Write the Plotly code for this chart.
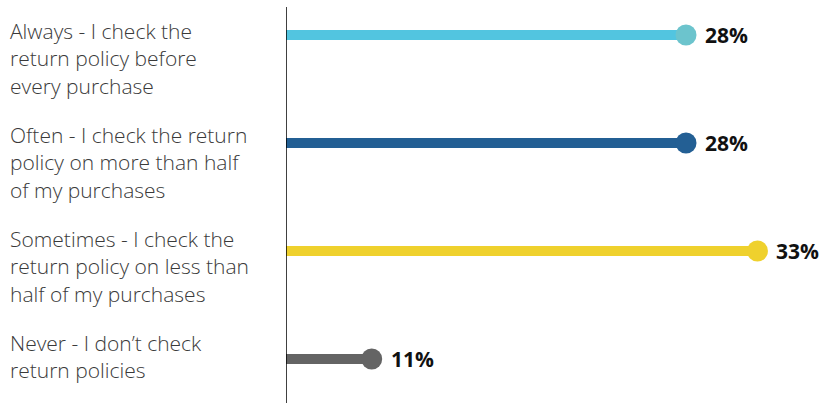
import plotly.graph_objects as go

categories = [
    "Always - I check the<br>return policy before<br>every purchase",
    "Often - I check the return<br>policy on more than half<br>of my purchases",
    "Sometimes - I check the<br>return policy on less than<br>half of my purchases",
    "Never - I don\u2019t check<br>return policies",
]
values = [28, 28, 33, 6]
value_labels = ["28%", "28%", "33%", "11%"]
bar_colors = ["#52c5e0", "#235f94", "#efd12d", "#646464"]
dot_colors = ["#6cc4cd", "#235f94", "#efd12d", "#646464"]

W, H = 825, 403
px_per_unit = 400 / 28.0
row_px = 108.0
first_row_px = 35.0

fig = go.Figure()
for i, (v, bc, dc, lab) in enumerate(zip(values, bar_colors, dot_colors, value_labels)):
    fig.add_trace(go.Scatter(x=[0, v], y=[i, i], mode="lines",
                             line=dict(color=bc, width=10), hoverinfo="skip"))
    fig.add_trace(go.Scatter(x=[v], y=[i], mode="markers",
                             marker=dict(color=dc, size=21, line=dict(width=0)),
                             hoverinfo="skip"))
    fig.add_annotation(x=v, y=i, text="<b>" + lab + "</b>", showarrow=False,
                       xanchor="left", yanchor="middle", xshift=17, yshift=0,
                       font=dict(family="Open Sans", size=21, color="#111111"))

for i, c in enumerate(categories):
    top_px = 15 + 104 * i
    fig.add_annotation(xref="paper", x=-278 / (W - 286), y=(top_px - first_row_px) / row_px,
                       text=c, showarrow=False, xanchor="left", yanchor="top", align="left",
                       font=dict(family="Open Sans", size=21, color="#3a3a3a", weight=300))

y_top = -first_row_px / row_px
y_bot = (H - first_row_px) / row_px
fig.add_shape(type="line", x0=0, x1=0, y0=(7 - first_row_px) / row_px, y1=y_bot,
              line=dict(color="#000000", width=1.5), layer="above")

fig.update_layout(
    width=W, height=H, margin=dict(l=286, r=0, t=0, b=0),
    paper_bgcolor="white", plot_bgcolor="white", showlegend=False,
    xaxis=dict(range=[0, (W - 286) / px_per_unit], visible=False, fixedrange=True),
    yaxis=dict(range=[y_bot, y_top], visible=False, fixedrange=True),
)
fig.write_html("out.html", config={"displayModeBar": False},
               post_script="document.body.style.margin='0';document.body.style.overflow='hidden';")
